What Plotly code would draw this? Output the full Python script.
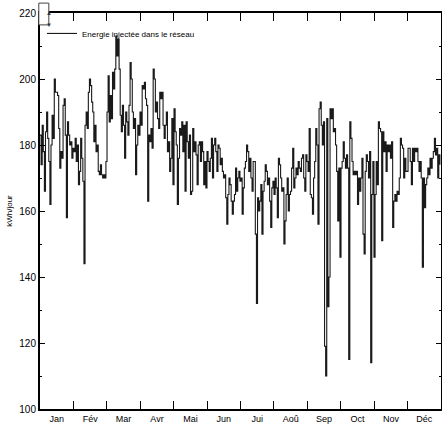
import plotly.graph_objects as go

months = ["Jan", "Fév", "Mar", "Avr", "Mai", "Jun", "Jui", "Aoû", "Sep", "Oct", "Nov", "Déc"]

jan = [183,174,186,178,166,184,190,182,175,162,180,189,182,200,196,196,195,185,173,178,176,192,194,183,158,187,183,180,181,176,179]
feb = [178,182,175,180,168,172,182,176,169,144,186,190,185,196,200,198,193,190,181,186,178,180,172,171,174,171,170,171]
mar = [170,175,190,201,187,195,188,202,197,203,213,207,212,203,189,184,192,186,176,190,187,183,192,205,200,190,185,188,171,180,186]
apr = [183,190,186,198,197,199,194,192,163,183,181,185,179,203,200,190,193,188,185,196,194,196,186,182,186,190,178,181,172,176]
may = [188,168,191,184,180,162,176,185,183,187,178,186,166,187,181,176,183,165,166,185,178,181,177,168,180,181,175,181,178,168,175]
jun = [167,178,175,172,176,182,170,180,182,178,172,180,179,174,176,172,170,171,164,156,165,170,168,163,159,163,165,173,166,170]
jul = [172,169,170,159,167,173,175,180,178,172,176,170,166,175,175,153,132,164,160,163,168,153,166,169,174,172,168,170,163,155,167]
aug = [169,165,170,167,158,176,174,170,166,167,150,157,165,170,160,165,166,173,179,167,170,173,171,175,173,172,176,177,170,166,177]
sep = [175,172,185,165,164,159,170,175,185,180,156,191,193,186,180,187,119,110,188,131,140,191,188,191,184,185,180,172,157,173]
oct_ = [146,173,175,181,176,173,177,173,115,187,182,175,171,172,171,172,162,170,166,170,176,153,147,172,177,175,170,178,114,165,175]
nov = [146,165,175,168,187,185,184,151,184,178,181,172,180,178,180,176,181,155,163,165,163,166,165,170,182,180,179,170,176,172]
dec = [172,179,179,175,168,179,175,179,178,179,175,172,175,170,143,170,161,168,170,173,171,176,173,176,178,182,177,179,170,177,174]

energy = jan + feb + mar + apr + may + jun + jul + aug + sep + oct_ + nov + dec
days = list(range(len(energy)))
n_days = 365
month_len = n_days / 12
month_bounds = [i * month_len for i in range(1, 12)]
month_mids = [(i + 0.5) * month_len for i in range(12)]

font_main = "Liberation Sans Narrow, Liberation Sans, Arial Narrow, Arial, sans-serif"

fig = go.Figure()
fig.add_trace(go.Scatter(
    x=days, y=energy, mode="lines", line_shape="hv",
    line=dict(color="#1a1a1a", width=1.1),
    name="Energie injectée dans le réseau",
))
# helper trace so the top axis (month ticks) is drawn
fig.add_trace(go.Scatter(
    x=[0, n_days], y=[100, 100], xaxis="x2", mode="lines",
    line=dict(color="rgba(0,0,0,0)", width=0), showlegend=False, hoverinfo="skip",
))

fig.update_layout(
    width=442, height=431,
    margin=dict(l=40, r=1, t=13, b=22, autoexpand=False),
    paper_bgcolor="white", plot_bgcolor="white",
    font=dict(family=font_main, size=10, color="black"),
    showlegend=True,
    legend=dict(x=0.005, y=0.985, xanchor="left", yanchor="top",
                bgcolor="rgba(0,0,0,0)", borderwidth=0,
                font=dict(size=8, family=font_main), itemwidth=30),
    xaxis=dict(
        range=[0, n_days], showgrid=False, zeroline=False, automargin=False,
        showline=True, linecolor="black", linewidth=2, mirror=True,
        tickmode="array", tickvals=month_mids, ticktext=months,
        ticks="", ticklen=0, tickfont=dict(size=9),
        minor=dict(tickmode="array", tickvals=month_bounds, ticks="inside",
                   ticklen=8, tickwidth=1, tickcolor="black", showgrid=False),
    ),
    xaxis2=dict(
        overlaying="x", side="top", range=[0, n_days], automargin=False,
        showgrid=False, zeroline=False, showline=False, showticklabels=False,
        tickmode="array", tickvals=month_bounds, ticks="inside",
        ticklen=8, tickwidth=1, tickcolor="black",
    ),
    yaxis=dict(
        range=[100, 220], dtick=20, showgrid=False, zeroline=False, automargin=False,
        showline=True, linecolor="black", linewidth=2, mirror="ticks",
        ticks="inside", ticklen=5, tickwidth=1, tickcolor="black",
        tickfont=dict(size=10),
        minor=dict(dtick=10, ticks="inside", ticklen=2, tickcolor="black", showgrid=False),
        title=dict(text="kWh/jour", font=dict(size=8), standoff=6),
    ),
    shapes=[dict(type="rect", xref="paper", yref="paper",
                 x0=-0.003, x1=0.022, y0=0.97, y1=1.025,
                 line=dict(color="#444444", width=1), fillcolor="white")],
    annotations=[
        dict(text="▲", xref="paper", yref="paper", x=0.0095, y=1.012,
             showarrow=False, font=dict(size=6, color="#333333")),
        dict(text="▼", xref="paper", yref="paper", x=0.0095, y=0.982,
             showarrow=False, font=dict(size=6, color="#333333")),
    ],
)

fig.write_html("out.html", config={"displayModeBar": False},
               post_script="document.body.style.margin='0';")
